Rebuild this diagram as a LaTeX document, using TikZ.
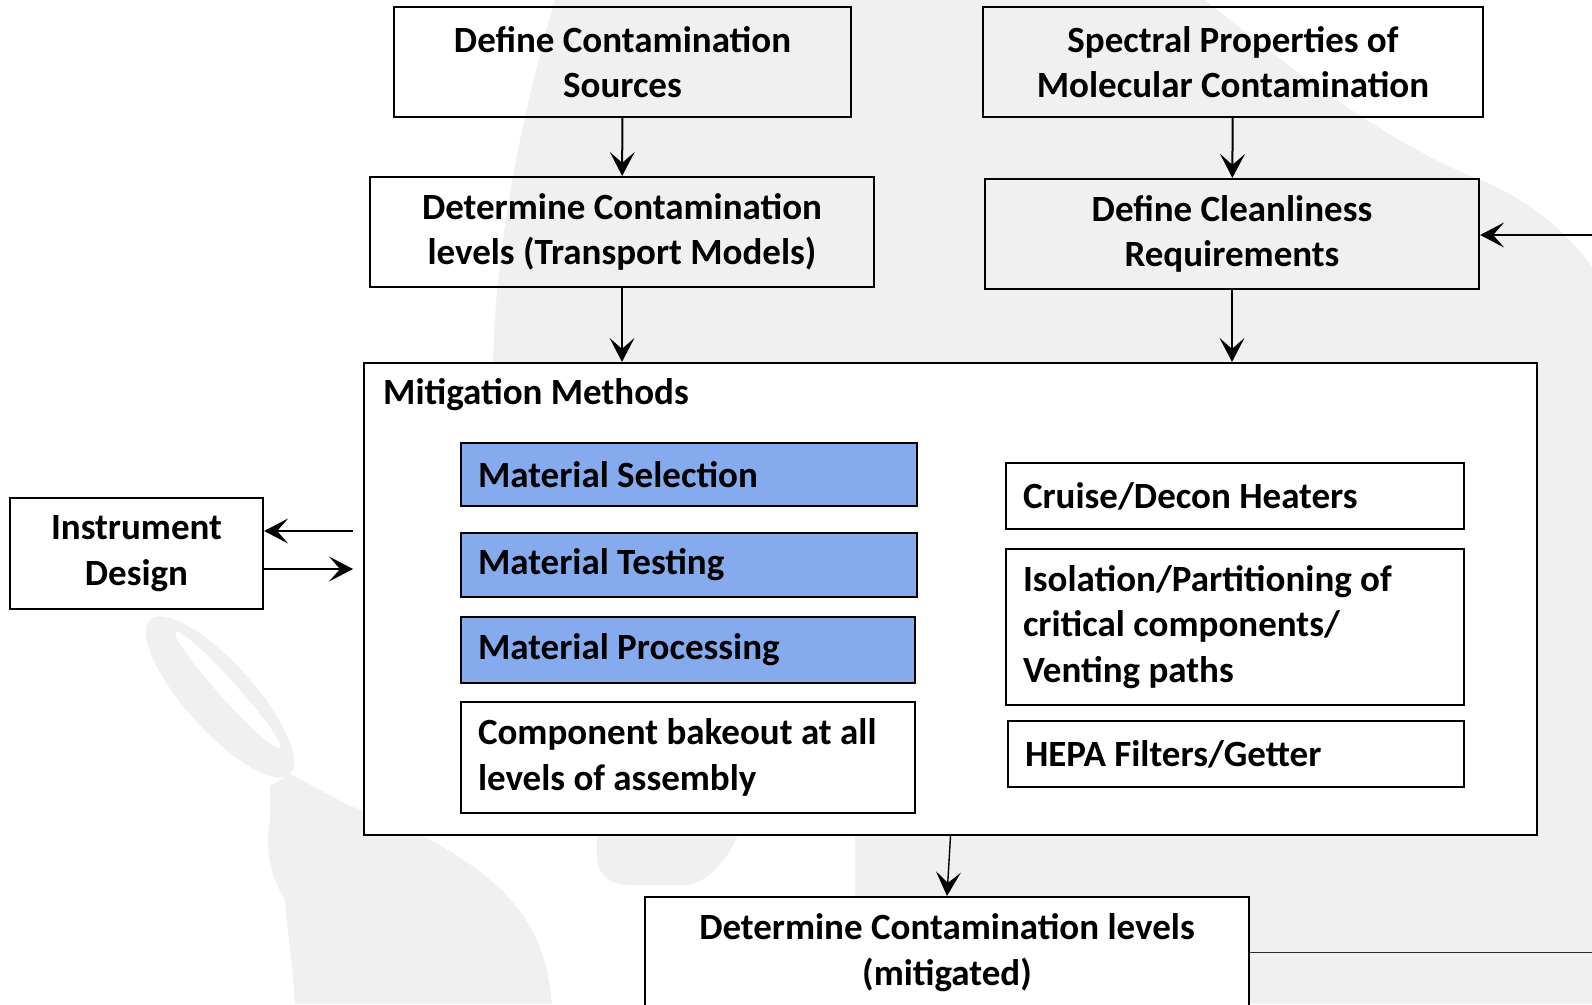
\documentclass[tikz,border=0pt]{standalone}
\usepackage{fontspec}
\setmainfont{Carlito}
\usetikzlibrary{arrows.meta}
\definecolor{wmgray}{HTML}{F0F0F0}
\definecolor{selblue}{HTML}{85AAEE}
\definecolor{feedline}{HTML}{2A2A2A}
\tikzset{
  lbl/.style={font=\fontsize{37}{45.5}\selectfont\bfseries},
  box/.style={draw=black, line width=2.2pt, rectangle, lbl, align=center, inner sep=0pt},
  leftbox/.style={draw=black, line width=2.2pt, rectangle, lbl, align=left, inner xsep=17pt, inner ysep=0pt,
    execute at begin node={\spaceskip=0pt\xspaceskip=0pt\relax}},
  arr/.style={line width=2pt, -{Stealth[length=24pt,width=25pt,inset=11pt]}},
}
\begin{document}
\begin{tikzpicture}[x=1pt,y=-1pt]
\useasboundingbox (0,0) rectangle (1592,1004);
\clip (0,0) rectangle (1592,1004);
\fill[white] (0,0) rectangle (1592,1004);

% faint background silhouette
\fill[wmgray] (555,0) -- (1205,0) .. controls (1280,60) and (1380,140) .. (1480,180)
  .. controls (1530,200) and (1570,235) .. (1592,267) -- (1592,1004) -- (855,1004)
  -- (855,835) -- (700,835) -- (493,363) .. controls (495,250) and (520,120) .. (555,0) -- cycle;
\fill[wmgray] (597,835) -- (597,860) .. controls (600,878) and (612,885) .. (630,885)
  -- (690,885) .. controls (712,878) and (728,858) .. (738,835) -- cycle;
\fill[wmgray, rotate around={-48:(220,697)}] (220,697) ellipse [x radius=104pt, y radius=34pt];
\fill[white, rotate around={-48:(228,690)}] (228,690) ellipse [x radius=78pt, y radius=9pt];
\fill[wmgray] (270,786) -- (290,774) -- (320,790) -- (350,806)
  .. controls (420,830) and (500,870) .. (532,930)
  .. controls (545,955) and (550,980) .. (552,1004) -- (295,1004)
  .. controls (292,960) and (287,930) .. (285,900)
  .. controls (272,880) and (264,850) .. (270,820) -- cycle;

% upper process boxes
\node[box, minimum width=457pt, minimum height=110pt] (src) at (622.5,62) {Define Contamination\\Sources};
\node[box, minimum width=504pt, minimum height=110pt] (lvl) at (622,232) {Determine Contamination\\levels (Transport Models)};
\node[box, minimum width=500pt, minimum height=110pt] (spec) at (1233,62) {Spectral Properties of\\Molecular Contamination};
\node[box, minimum width=494pt, minimum height=110pt] (req) at (1232,234) {Define Cleanliness\\Requirements};

% mitigation methods group
\node[box, fill=white, minimum width=1173pt, minimum height=472pt] (mit) at (950.5,599) {};
\node[lbl, anchor=west, inner sep=0pt] (mittitle) at (383,395) {Mitigation Methods};
\node[leftbox, fill=selblue, text width=422pt, minimum height=63pt] (sel) at (689,474.5) {Material Selection};
\node[leftbox, fill=selblue, text width=422pt, minimum height=64pt] (tst) at (689,565) {Material Testing};
\node[leftbox, fill=selblue, text width=420pt, minimum height=66pt] (prc) at (688,650) {Material Processing};
\node[leftbox, fill=white, text width=420pt, minimum height=111pt] (bak) at (688,757.5) {Component bakeout at all\\levels of assembly};
\node[leftbox, fill=white, text width=424pt, minimum height=66pt] (heat) at (1235,496) {Cruise/Decon Heaters};
\node[leftbox, fill=white, text width=424pt, minimum height=156pt] (iso) at (1235,627) {Isolation/Partitioning of\\critical components/\\Venting paths};
\node[leftbox, fill=white, text width=422pt, minimum height=66pt] (hepa) at (1236,754) {HEPA Filters/Getter};

% side and result boxes
\node[box, fill=white, minimum width=253pt, minimum height=111pt] (ins) at (136.5,553.5) {Instrument\\Design};
\node[box, fill=white, minimum width=604pt, minimum height=111pt] (bot) at (947,952.5) {Determine Contamination levels\\(mitigated)};

% connectors
\draw[arr] (src) -- (lvl);
\draw[arr] (lvl.south) -- (lvl.south |- mit.north);
\draw[arr] (spec) -- (req);
\draw[arr] (req.south) -- (req.south |- mit.north);

\coordinate (fbin) at (1592,235);
\draw[arr] (fbin) -- (fbin -| req.east);

\coordinate (insA) at (353,531);
\coordinate (insB) at (353,569);
\draw[arr] (insA) -- (insA -| ins.east);
\draw[arr] (insB -| ins.east) -- (insB);

\draw[arr, line width=1.4pt] (mit.south) -- (bot.north);

\coordinate (botout) at (1592,952.5);
\draw[feedline, line width=1.6pt] (bot.east) -- (botout);
\end{tikzpicture}
\end{document}
